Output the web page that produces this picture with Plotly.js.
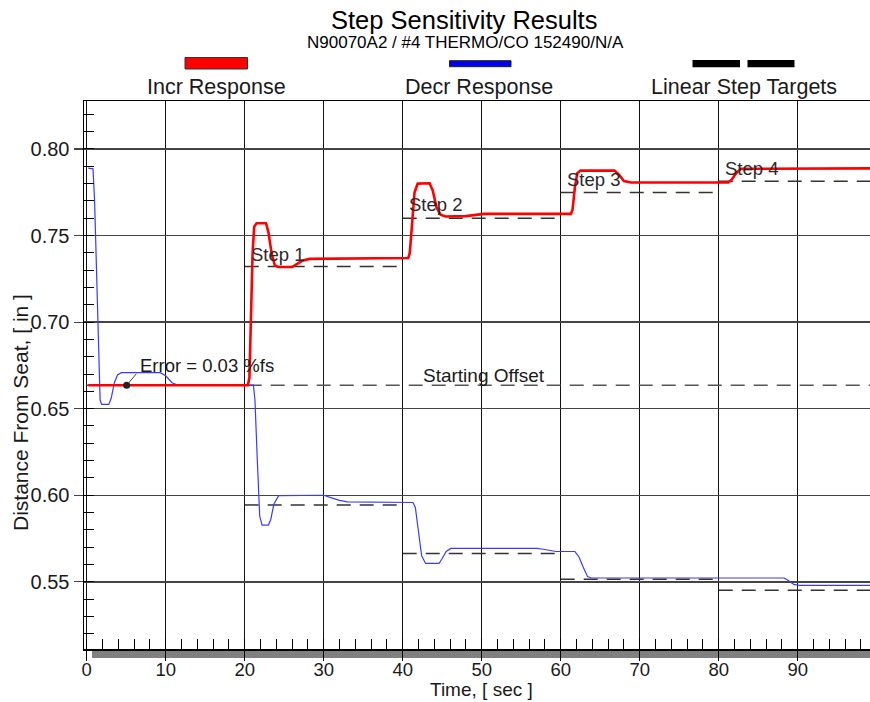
<!DOCTYPE html>
<html><head><meta charset="utf-8">
<script src="https://cdn.plot.ly/plotly-3.0.1.min.js"></script>
<style>html,body{margin:0;padding:0;background:#fff}</style>
</head><body><div id="chart" style="width:870px;height:702px"></div>
<script>
// ---- data ----
const incrTime  = [0.2, 20.4, 20.6, 20.8, 21.0, 21.2, 21.5, 22.7, 23.0, 23.4, 23.8, 24.2, 26.0, 26.6, 27.3, 28.2, 35.0, 40.7, 40.9, 41.2, 41.5, 41.9, 43.4, 43.8, 44.3, 44.8, 45.4, 48.0, 50.3, 61.3, 61.5, 61.8, 62.1, 62.5, 66.8, 67.4, 68.0, 68.9, 81.2, 81.6, 82.2, 82.8, 90.0, 99.5];
const incrValue = [0.6635, 0.6635, 0.668, 0.700, 0.740, 0.755, 0.7571, 0.7571, 0.752, 0.740, 0.733, 0.7318, 0.7318, 0.7335, 0.7355, 0.7365, 0.7368, 0.737, 0.740, 0.760, 0.775, 0.7800, 0.7802, 0.776, 0.766, 0.762, 0.761, 0.7612, 0.7625, 0.7625, 0.765, 0.778, 0.786, 0.7875, 0.7875, 0.785, 0.7815, 0.7806, 0.7806, 0.782, 0.786, 0.7885, 0.7888, 0.7888];

const decrTime  = [0.2, 0.8, 1.0, 1.3, 1.5, 1.7, 1.9, 2.8, 3.1, 3.5, 3.9, 4.4, 9.3, 10.0, 10.8, 11.5, 21.1, 21.3, 21.6, 21.9, 22.2, 23.0, 23.3, 23.7, 24.3, 30.0, 31.0, 32.0, 33.0, 41.3, 41.6, 42.0, 42.4, 42.9, 44.6, 45.0, 45.5, 46.1, 57.0, 57.8, 58.6, 59.4, 61.8, 62.3, 62.9, 63.4, 63.9, 88.3, 88.9, 89.5, 90.2, 99.5];
const decrValue = [0.7889, 0.7885, 0.770, 0.720, 0.680, 0.655, 0.6525, 0.6525, 0.656, 0.665, 0.6695, 0.6708, 0.6708, 0.669, 0.665, 0.6636, 0.6636, 0.655, 0.620, 0.588, 0.5828, 0.5828, 0.586, 0.595, 0.5998, 0.6000, 0.5985, 0.5970, 0.5962, 0.5958, 0.593, 0.578, 0.565, 0.5606, 0.5606, 0.5635, 0.5675, 0.5693, 0.5693, 0.5688, 0.568, 0.5675, 0.5675, 0.5645, 0.558, 0.553, 0.5522, 0.5522, 0.5505, 0.5485, 0.548, 0.548];

const startingOffset = 0.6635;
const targetStart = [20, 40, 60, 80];
const targetEnd   = [40, 60, 80, 99.5];
const incrTarget  = [0.7321, 0.7600, 0.7748, 0.7814];
const decrTarget  = [0.5944, 0.5664, 0.5515, 0.5452];
const stepLabels  = ['Step 1', 'Step 2', 'Step 3', 'Step 4'];
const errorPoint  = {t: 5.06, v: 0.6635, label: 'Error = 0.03 %fs'};

// ---- build traces ----
function segs(starts, ends, vals) {
  const x = [], y = [];
  for (let i = 0; i < starts.length; i++) { x.push(starts[i], ends[i], null); y.push(vals[i], vals[i], null); }
  return {x, y};
}
const it = segs(targetStart, targetEnd, incrTarget);
const dt = segs(targetStart, targetEnd, decrTarget);
const dash = '14px,9px';
const traces = [
  {x: [0, targetEnd[targetEnd.length-1]], y: [startingOffset, startingOffset], mode: 'lines', line: {color: '#555', width: 1.5, dash}, hoverinfo: 'skip'},
  {x: it.x, y: it.y, mode: 'lines', line: {color: '#333', width: 1.5, dash}, name: 'Linear Step Targets'},
  {x: dt.x, y: dt.y, mode: 'lines', line: {color: '#333', width: 1.5, dash}, name: 'Linear Step Targets'},
  {x: decrTime, y: decrValue, mode: 'lines', line: {color: '#3a3aff', width: 1.2}, name: 'Decr Response'},
  {x: incrTime, y: incrValue, mode: 'lines', line: {color: '#ff0000', width: 2.6}, name: 'Incr Response'},
  {x: [errorPoint.t], y: [errorPoint.v], mode: 'markers', marker: {color: '#222', size: 7}, hoverinfo: 'skip'}
];

// ---- layout ----
const W = 870, H = 702, L = 84, R = 0, T = 101, B = 53;
const pw = W - L - R, ph = H - T - B;
const px = v => (v - L) / pw;           // pixel x -> paper
const py = v => (H - B - v) / ph;       // pixel y -> paper
const FONT = 'Liberation Sans, Arial, sans-serif';
const TXT = '#1a1a1a';

const shapes = [
  // gray band under the x axis
  {type: 'rect', xref: 'paper', yref: 'paper', x0: px(92), x1: px(872), y0: py(649.5), y1: py(658), fillcolor: '#808080', line: {width: 0}, layer: 'below'},
  // legend swatches
  {type: 'rect', xref: 'paper', yref: 'paper', x0: px(185), x1: px(247.5), y0: py(69), y1: py(57.5), fillcolor: '#ff0000', line: {color: '#333', width: 1}},
  {type: 'rect', xref: 'paper', yref: 'paper', x0: px(449.5), x1: px(511), y0: py(66.7), y1: py(60.7), fillcolor: '#0000ee', line: {color: '#222', width: 1}},
  {type: 'rect', xref: 'paper', yref: 'paper', x0: px(692.5), x1: px(740), y0: py(67.3), y1: py(60), fillcolor: '#000', line: {width: 0}},
  {type: 'rect', xref: 'paper', yref: 'paper', x0: px(747.5), x1: px(794.5), y0: py(67.3), y1: py(60), fillcolor: '#000', line: {width: 0}}
];

const stepLabelPos = [[20.6, 0.7393], [40.6, 0.7677], [60.5, 0.7821], [80.5, 0.7889]];
const annotations = [
  {xref: 'paper', yref: 'paper', x: px(464), y: py(20), text: 'Step Sensitivity Results', showarrow: false, font: {family: FONT, size: 25.5, color: '#000'}, xanchor: 'center', yanchor: 'middle'},
  {xref: 'paper', yref: 'paper', x: px(465), y: py(43), text: 'N90070A2 / #4 THERMO/CO 152490/N/A', showarrow: false, font: {family: FONT, size: 17, color: '#000'}, xanchor: 'center', yanchor: 'middle'},
  {xref: 'paper', yref: 'paper', x: px(216.7), y: py(86.7), text: 'Incr Response', showarrow: false, font: {family: FONT, size: 21.5, color: TXT}, xanchor: 'center', yanchor: 'middle'},
  {xref: 'paper', yref: 'paper', x: px(479.5), y: py(86.7), text: 'Decr Response', showarrow: false, font: {family: FONT, size: 21.5, color: TXT}, xanchor: 'center', yanchor: 'middle'},
  {xref: 'paper', yref: 'paper', x: px(743.7), y: py(86.7), text: 'Linear Step Targets', showarrow: false, font: {family: FONT, size: 21.5, color: TXT}, xanchor: 'center', yanchor: 'middle'},
  {xref: 'paper', yref: 'paper', x: px(20), y: py(413), text: 'Distance From Seat, [ in ]', textangle: -90, showarrow: false, font: {family: FONT, size: 21, color: TXT}, xanchor: 'center', yanchor: 'middle'},
  {xref: 'paper', yref: 'paper', x: px(481), y: py(701), text: 'Time, [ sec ]', showarrow: false, font: {family: FONT, size: 19, color: TXT}, xanchor: 'center', yanchor: 'bottom', borderpad: 0},
  {xref: 'x', yref: 'y', x: 42.3, y: 0.6693, text: 'Starting Offset', showarrow: false, font: {family: FONT, size: 19, color: TXT}, xanchor: 'left', yanchor: 'middle'},
  {xref: 'x', yref: 'y', x: 6.5, y: 0.6751, text: errorPoint.label, showarrow: false, font: {family: FONT, size: 18.5, color: TXT}, xanchor: 'left', yanchor: 'middle'},
  {xref: 'x', yref: 'y', x: errorPoint.t, y: errorPoint.v, text: '', showarrow: true, arrowhead: 0, arrowwidth: 1, arrowcolor: '#444', ax: 11, ay: -13, standoff: 3}
];
stepLabels.forEach((s, i) => annotations.push({xref: 'x', yref: 'y', x: stepLabelPos[i][0], y: stepLabelPos[i][1], text: s, showarrow: false, font: {family: FONT, size: 18.5, color: '#2a2a2a'}, xanchor: 'left', yanchor: 'middle'}));

const layout = {
  width: W, height: H,
  margin: {l: L, r: R, t: T, b: B},
  paper_bgcolor: '#fff', plot_bgcolor: '#fff',
  showlegend: false,
  font: {family: FONT, color: TXT},
  xaxis: {
    range: [-0.34, 99.15], tick0: 0, dtick: 10,
    showgrid: true, gridcolor: '#111', gridwidth: 1.2,
    zeroline: false, showline: true, linecolor: '#000', linewidth: 1.5, mirror: true,
    ticks: 'outside', ticklen: 10, tickwidth: 1.2, tickcolor: '#000',
    ticklabelstandoff: -7,
    tickfont: {family: FONT, size: 18.5, color: TXT},
    minor: {dtick: 2, ticks: 'inside', ticklen: 10, tickwidth: 1, tickcolor: '#000', showgrid: false}
  },
  yaxis: {
    range: [0.5112, 0.8277], tick0: 0.5, dtick: 0.05, tickformat: '.2f',
    showgrid: true, gridcolor: '#444', gridwidth: 1.4,
    zeroline: false, showline: true, linecolor: '#000', linewidth: 1.5,
    ticks: 'outside', ticklen: 9, tickwidth: 1.2, tickcolor: '#444',
    tickfont: {family: FONT, size: 20, color: TXT},
    minor: {dtick: 0.01, ticks: 'inside', ticklen: 10, tickwidth: 1, tickcolor: '#000', showgrid: false}
  },
  shapes, annotations
};

Plotly.newPlot('chart', traces, layout, {displayModeBar: false, staticPlot: true});
</script>
</body></html>
